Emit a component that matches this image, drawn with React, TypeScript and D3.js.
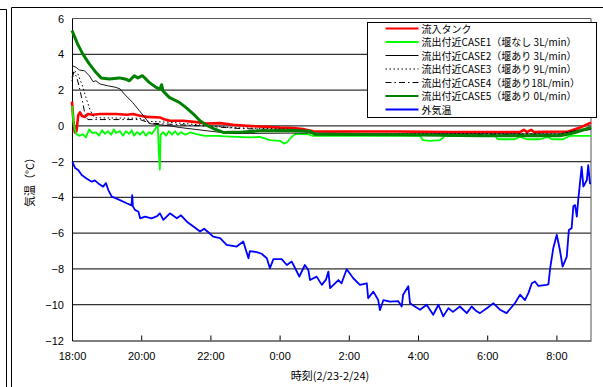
import { useEffect, useRef } from "react";
import * as d3 from "d3";

// hours after 18:00, value in ℃
const xTickLabels = ["18:00", "20:00", "22:00", "0:00", "2:00", "4:00", "6:00", "8:00"];
const yTicks = [6, 4, 2, 0, -2, -4, -6, -8, -10, -12];

const inflowTank: [number, number][] = [
  [0.0, 1.35], [0.04, 0.3], [0.08, -0.37], [0.13, -0.3], [0.18, 0.6], [0.23, 0.75], [0.29, 0.55],
  [0.38, 0.5], [0.46, 0.66], [0.61, 0.62], [0.81, 0.66], [1.27, 0.66], [1.59, 0.62], [1.76, 0.66],
  [1.97, 0.56], [2.17, 0.5], [2.54, 0.47], [2.66, 0.37], [2.83, 0.28], [3.21, 0.28], [3.53, 0.22],
  [3.9, 0.13], [4.28, 0.15], [4.65, 0.06], [5.06, 0.0], [5.64, -0.06], [6.01, -0.1], [6.39, -0.12],
  [6.73, -0.2], [6.97, -0.3], [7.46, -0.32], [9.48, -0.32], [10.92, -0.35], [12.95, -0.35],
  [13.06, -0.22], [13.15, -0.35], [13.27, -0.22], [13.35, -0.35], [13.67, -0.33], [14.34, -0.32],
  [14.54, -0.19], [14.73, -0.06], [14.91, 0.1], [15.0, 0.18],
];

const case1: [number, number][] = [
  [0.0, 1.12], [0.04, 0.3], [0.07, -0.1], [0.12, -0.45], [0.21, -0.56], [0.31, -0.47], [0.4, -0.65],
  [0.5, -0.19], [0.58, -0.4], [0.69, -0.37], [0.78, -0.55], [0.87, -0.25], [0.95, -0.45], [1.04, -0.3],
  [1.13, -0.5], [1.21, -0.2], [1.27, -0.4], [1.39, -0.3], [1.47, -0.55], [1.56, -0.3], [1.65, -0.45],
  [1.73, -0.25], [1.79, -0.55], [1.88, -0.35], [1.97, -0.5], [2.05, -0.3], [2.14, -0.55], [2.23, -0.35],
  [2.31, -0.45], [2.4, -0.2], [2.48, 0.06], [2.51, -1.5], [2.54, -2.45], [2.56, -0.5], [2.63, -0.35],
  [2.72, -0.55], [2.8, -0.3], [2.89, -0.5], [2.98, -0.3], [3.06, -0.5], [3.15, -0.35], [3.27, -0.5],
  [3.41, -0.37], [3.6, -0.47], [3.84, -0.56], [4.18, -0.56], [4.57, -0.6], [5.14, -0.65], [5.43, -0.62],
  [5.72, -0.8], [6.01, -0.84], [6.13, -0.99], [6.21, -0.93], [6.3, -0.72], [6.45, -0.45], [6.82, -0.47],
  [6.97, -0.56], [10.06, -0.56], [10.14, -0.8], [10.35, -0.84], [10.64, -0.8], [10.78, -0.56],
  [12.23, -0.58], [12.31, -0.75], [12.8, -0.75], [12.95, -0.62], [13.15, -0.75], [13.53, -0.75],
  [13.76, -0.62], [13.87, -0.75], [14.19, -0.75], [14.39, -0.56], [15.0, -0.56],
];

const case2: [number, number][] = [
  [0.0, 3.37], [0.12, 3.27], [0.21, 3.12], [0.36, 3.08], [0.5, 2.8], [0.61, 2.47], [0.69, 2.52],
  [0.81, 2.34], [1.03, 2.24], [1.27, 2.15], [1.39, 2.06], [1.51, 1.78], [1.75, 1.31], [1.95, 0.84],
  [2.14, 0.38], [2.23, 0.13], [2.37, 0.09], [2.83, 0.0], [3.1, -0.09], [3.53, -0.19], [4.08, -0.32],
  [4.65, -0.43], [6.88, -0.4], [9.48, -0.45], [14.1, -0.45], [14.54, -0.3], [15.0, -0.2],
];

const case3: [number, number][] = [
  [0.0, 2.5], [0.06, 3.1], [0.17, 2.9], [0.29, 2.3], [0.4, 1.6], [0.52, 0.9], [0.61, 0.55], [0.69, 0.45],
  [1.97, 0.42], [2.2, 0.25], [2.83, 0.2], [3.7, 0.05], [4.57, -0.1], [6.59, -0.2], [6.97, -0.42],
  [14.1, -0.45], [14.54, -0.25], [15.0, -0.15],
];

const case4: [number, number][] = [
  [0.0, 2.7], [0.06, 3.0], [0.14, 2.7], [0.23, 2.0], [0.32, 1.2], [0.38, 0.6], [0.46, 0.35],
  [1.97, 0.35], [2.25, 0.15], [3.7, 0.0], [4.86, -0.15], [6.59, -0.25], [6.97, -0.45], [14.1, -0.5],
  [14.54, -0.3], [15.0, -0.2],
];

const case5: [number, number][] = [
  [0.0, 5.33], [0.16, 4.58], [0.31, 4.02], [0.5, 3.46], [0.69, 2.99], [0.84, 2.68], [1.08, 2.62],
  [1.37, 2.68], [1.53, 2.62], [1.66, 2.52], [1.8, 2.8], [1.9, 2.68], [2.04, 2.8], [2.23, 2.43],
  [2.43, 2.15], [2.54, 2.05], [2.59, 2.3], [2.63, 1.95], [2.81, 1.59], [3.1, 1.31], [3.29, 1.03],
  [3.51, 0.66], [3.7, 0.28], [3.87, 0.05], [4.08, -0.15], [4.37, -0.37], [4.94, -0.35], [5.43, -0.28],
  [6.39, -0.26], [6.88, -0.3], [7.02, -0.47], [9.48, -0.5], [11.79, -0.55], [14.1, -0.55],
  [14.25, -0.5], [14.54, -0.37], [14.83, -0.19], [15.0, -0.09],
];

const outside: [number, number][] = [
  [0.01, -2.0], [0.09, -2.36], [0.18, -2.47], [0.28, -2.75], [0.42, -2.94], [0.57, -3.12], [0.66, -3.05],
  [0.76, -3.22], [0.9, -3.4], [0.98, -3.2], [1.05, -3.59], [1.15, -3.96], [1.34, -4.11], [1.58, -4.33],
  [1.72, -4.45], [1.74, -3.87], [1.76, -4.5], [1.82, -4.7], [1.92, -4.8], [1.97, -5.17], [2.11, -5.08],
  [2.3, -5.17], [2.46, -5.05], [2.54, -4.89], [2.64, -5.26], [2.83, -4.89], [3.03, -5.17], [3.15, -5.0],
  [3.32, -5.36], [3.51, -5.63], [3.7, -5.91], [3.82, -5.75], [3.94, -5.95], [4.08, -6.19], [4.28, -6.28],
  [4.47, -6.65], [4.76, -6.75], [4.95, -6.47], [5.1, -7.4], [5.14, -7.0], [5.34, -7.06], [5.48, -7.15],
  [5.63, -7.4], [5.72, -7.96], [5.82, -7.45], [6.06, -7.45], [6.21, -7.78], [6.35, -7.59], [6.45, -7.96],
  [6.57, -8.43], [6.73, -7.78], [6.83, -8.06], [6.88, -8.62], [7.07, -8.43], [7.22, -8.89], [7.34, -8.6],
  [7.41, -8.15], [7.46, -9.07], [7.7, -8.62], [7.79, -8.8], [7.94, -8.02], [8.13, -8.52], [8.32, -8.89],
  [8.52, -8.8], [8.56, -9.64], [8.71, -9.27], [8.85, -9.74], [8.9, -10.3], [9.0, -9.74], [9.19, -9.83],
  [9.43, -9.8], [9.53, -10.1], [9.57, -9.44], [9.72, -8.97], [9.77, -9.92], [9.91, -10.1], [10.06, -10.28],
  [10.25, -10.0], [10.44, -10.56], [10.59, -10.0], [10.73, -10.65], [10.88, -10.19], [11.01, -10.4],
  [11.21, -10.1], [11.41, -10.47], [11.55, -10.1], [11.68, -10.35], [11.79, -10.47], [11.99, -10.2],
  [12.18, -9.92], [12.37, -10.28], [12.56, -10.47], [12.8, -9.92], [12.95, -9.44], [13.09, -9.74],
  [13.19, -9.35], [13.29, -8.8], [13.38, -8.7], [13.48, -8.95], [13.72, -8.89], [13.77, -8.85],
  [13.82, -7.96], [13.91, -6.84], [14.01, -6.09], [14.1, -6.93], [14.18, -7.87], [14.3, -7.31],
  [14.36, -5.82], [14.44, -5.72], [14.49, -4.5], [14.54, -4.43], [14.59, -5.08], [14.63, -4.15],
  [14.73, -2.29], [14.78, -3.4], [14.88, -3.03], [14.92, -2.2], [14.97, -3.22], [15.0, -3.22],
];

const series = [
  { label: "流入タンク", data: inflowTank, color: "#ff0000", width: 2.6, dash: null },
  { label: "流出付近CASE1（堰なし 3L/min）", data: case1, color: "#00ff00", width: 1.8, dash: null },
  { label: "流出付近CASE2（堰あり 3L/min）", data: case2, color: "#000000", width: 0.9, dash: null },
  { label: "流出付近CASE3（堰あり 9L/min）", data: case3, color: "#000000", width: 1, dash: "1.5,2.5" },
  { label: "流出付近CASE4（堰あり18L/min）", data: case4, color: "#000000", width: 1, dash: "6,3,1.5,3" },
  { label: "流出付近CASE5（堰あり 0L/min）", data: case5, color: "#008000", width: 3, dash: null },
  { label: "外気温", data: outside, color: "#0000ff", width: 1.8, dash: null },
];

const W = 603;
const H = 387;
const FONT = "'Liberation Sans', Arial, 'Noto Sans CJK JP', sans-serif";
const JFONT = "'Noto Sans CJK JP', 'Liberation Sans', sans-serif";

export default function App() {
  const svgRef = useRef<SVGSVGElement | null>(null);

  useEffect(() => {
    const svg = d3.select(svgRef.current).attr("width", W).attr("height", H);
    svg.selectAll("*").remove();

    const left = 72, right = 591, top = 18.5, bottom = 340.5;
    const x = d3.scaleLinear().domain([0, 15]).range([left, right]);
    const y = d3.scaleLinear().domain([-12, 6]).range([bottom, top]);

    svg.append("rect").attr("width", W).attr("height", H).attr("fill", "#fff");

    // outer frames
    svg.append("path").attr("d", "M0,9.5H6.5V387").attr("fill", "none").attr("stroke", "#000");
    svg.append("path").attr("d", "M11.5,387V7.5H603").attr("fill", "none").attr("stroke", "#000");

    // grid
    svg.append("g")
      .selectAll("line")
      .data(yTicks.filter((d) => d !== -12 && d !== 6))
      .enter()
      .append("line")
      .attr("x1", left)
      .attr("x2", right)
      .attr("y1", (d) => y(d))
      .attr("y2", (d) => y(d))
      .attr("stroke", "#333")
      .attr("stroke-width", 1.2);

    // plot border
    svg.append("line").attr("x1", left).attr("x2", right).attr("y1", top).attr("y2", top).attr("stroke", "#555");
    svg.append("line").attr("x1", right).attr("x2", right).attr("y1", top).attr("y2", bottom).attr("stroke", "#555");

    // x axis
    const xAxis = d3
      .axisBottom(x)
      .tickValues(d3.range(0, 15, 2))
      .tickFormat((_, i) => xTickLabels[i])
      .tickSizeInner(-5)
      .tickSizeOuter(0)
      .tickPadding(12);
    svg.append("g")
      .attr("transform", `translate(0,${bottom})`)
      .call(xAxis)
      .call((ax) => ax.select(".domain").attr("stroke", "#000"))
      .call((ax) => ax.selectAll(".tick line").attr("stroke", "#000"))
      .selectAll("text")
      .style("font-family", FONT)
      .style("font-size", "11px")
      .style("fill", "#000");

    // y axis
    const yAxis = d3.axisLeft(y).tickValues(yTicks).tickSize(0).tickPadding(8).tickFormat((d) => `${d}`.replace("-", "−"));
    svg.append("g")
      .attr("transform", `translate(${left},0)`)
      .call(yAxis)
      .call((ax) => ax.select(".domain").attr("stroke", "#000"))
      .selectAll("text")
      .style("font-family", FONT)
      .style("font-size", "11px")
      .style("fill", "#000");

    // axis titles
    svg.append("text")
      .attr("x", 330)
      .attr("y", 380)
      .attr("text-anchor", "middle")
      .style("font-family", JFONT)
      .style("font-size", "11px")
      .text("時刻(2/23-2/24)");
    svg.append("text")
      .attr("transform", `translate(34,${(top + bottom) / 2}) rotate(-90)`)
      .attr("text-anchor", "middle")
      .style("font-family", JFONT)
      .style("font-size", "11px")
      .text("気温（°C）");

    // series
    const line = d3
      .line<[number, number]>()
      .x((d) => x(d[0]))
      .y((d) => y(d[1]));

    const plot = svg.append("g");
    series.forEach((s) => {
      plot.append("path")
        .datum(s.data)
        .attr("fill", "none")
        .attr("stroke", s.color)
        .attr("stroke-width", s.width)
        .attr("stroke-dasharray", s.dash)
        .attr("stroke-linejoin", "round")
        .attr("d", line);
    });

    // legend
    const lg = svg.append("g").attr("transform", "translate(367.5,22.5)");
    lg.append("rect").attr("width", 229).attr("height", 95).attr("fill", "#fff").attr("stroke", "#000");
    const items = lg
      .selectAll(".legend-item")
      .data(series)
      .enter()
      .append("g")
      .attr("class", "legend-item")
      .attr("transform", (_, i) => `translate(0,${6 + i * 13.5})`);
    items.append("line")
      .attr("x1", 18)
      .attr("x2", 51)
      .attr("y1", 0)
      .attr("y2", 0)
      .attr("stroke", (d) => d.color)
      .attr("stroke-width", (d) => (d.width > 1.5 ? 2.2 : 1))
      .attr("stroke-dasharray", (d) => d.dash);
    items.append("text")
      .attr("x", 54)
      .attr("y", 4)
      .style("font-family", JFONT)
      .style("font-size", "10px")
      .text((d) => d.label);
  }, []);

  return (
    <div style={{ position: "absolute", left: 0, top: 0 }}>
      <svg ref={svgRef} style={{ display: "block" }} />
    </div>
  );
}
